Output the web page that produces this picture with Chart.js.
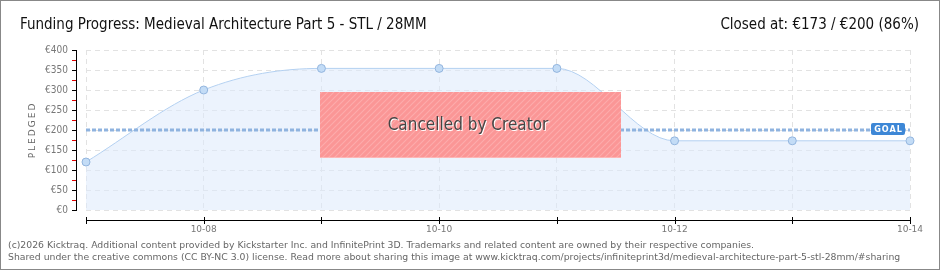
<!DOCTYPE html>
<html><head><meta charset="utf-8">
<script src="https://cdn.jsdelivr.net/npm/chart.js@4"></script>
<style>
html,body{margin:0;padding:0;background:#fff;}
canvas{display:block;}
</style></head><body>
<canvas id="c" width="940" height="270" style="width:940px;height:270px"></canvas>
<script>
const dates = ['10-07','10-08','10-09','10-10','10-11','10-12','10-13','10-14'];
const pledged = [120, 300, 354, 354, 354, 173, 173, 173];
const goal = 200;
const goalLine = dates.map(() => goal);
const yTicks = [0, 50, 100, 150, 200, 250, 300, 350, 400];
const titleText = 'Funding Progress: Medieval Architecture Part 5 - STL / 28MM';
const statusText = 'Closed at: €173 / €200 (86%)';
const footer1 = '(c)2026 Kicktraq. Additional content provided by Kickstarter Inc. and InfinitePrint 3D. Trademarks and related content are owned by their respective companies.';
const footer2 = 'Shared under the creative commons (CC BY-NC 3.0) license. Read more about sharing this image at www.kicktraq.com/projects/infiniteprint3d/medieval-architecture-part-5-stl-28mm/#sharing';
const NARROW = '"Liberation Sans Narrow","DejaVu Sans Condensed","Arial Narrow",sans-serif';

function hatch() {
  const p = document.createElement('canvas');
  p.width = 6; p.height = 6;
  const g = p.getContext('2d');
  g.fillStyle = '#fb9696';
  g.fillRect(0,0,6,6);
  g.strokeStyle = 'rgba(255,190,190,0.55)';
  g.lineWidth = 1.2;
  g.beginPath();
  g.moveTo(0,6); g.lineTo(6,0);
  g.moveTo(-3,3); g.lineTo(3,-3);
  g.moveTo(3,9); g.lineTo(9,3);
  g.stroke();
  return p;
}

const deco = {
  id: 'deco',
  afterDatasetsDraw(chart) {
    const ctx = chart.ctx, ca = chart.chartArea;
    const xs = chart.scales.x, ys = chart.scales.y;
    ctx.save();
    // cancelled box
    ctx.fillStyle = ctx.createPattern(hatch(), 'repeat');
    ctx.fillRect(320, 92, 301, 66);
    ctx.fillStyle = 'rgba(255,200,200,0.6)';
    ctx.fillRect(320, 157, 301, 1);
    ctx.font = '17px ' + NARROW;
    ctx.textAlign = 'center'; ctx.textBaseline = 'middle';
    ctx.fillStyle = '#ffffff';
    ctx.fillText('Cancelled by Creator', 469, 127);
    ctx.fillStyle = '#454545';
    ctx.fillText('Cancelled by Creator', 468, 126);
    // GOAL label
    const gy = ys.getPixelForValue(goal);
    const gx2 = ca.right - 5, gx1 = gx2 - 34;
    ctx.fillStyle = '#3d87d6';
    ctx.beginPath();
    ctx.roundRect(gx1, gy - 7, 34, 12, 2);
    ctx.fill();
    ctx.fillStyle = '#fff';
    ctx.font = 'bold 9px "DejaVu Sans Condensed","DejaVu Sans",sans-serif';
    ctx.letterSpacing = '1px';
    ctx.fillText('GOAL', (gx1 + gx2) / 2 + 0.5, gy - 0.5);
    ctx.letterSpacing = '0px';
    // y axis line & ticks
    ctx.strokeStyle = '#000'; ctx.lineWidth = 1;
    ctx.beginPath();
    ctx.moveTo(76.5, ys.getPixelForValue(400)); ctx.lineTo(76.5, ys.getPixelForValue(0));
    yTicks.forEach(v => { const y = Math.round(ys.getPixelForValue(v)) + 0.5; ctx.moveTo(72, y); ctx.lineTo(77, y); });
    ctx.stroke();
    ctx.strokeStyle = '#e00000';
    ctx.beginPath();
    yTicks.slice(0, -1).forEach(v => { const y = Math.round(ys.getPixelForValue(v + 25)) + 0.5; ctx.moveTo(72, y); ctx.lineTo(76, y); });
    ctx.stroke();
    // x axis line & ticks
    ctx.strokeStyle = '#000';
    ctx.beginPath();
    ctx.moveTo(ca.left, 220.5); ctx.lineTo(ca.right, 220.5);
    dates.forEach((d, i) => { const x = Math.round(xs.getPixelForValue(i)) + 0.5; ctx.moveTo(x, 217); ctx.lineTo(x, 224); });
    ctx.stroke();
    // y title
    ctx.save();
    ctx.translate(33, 130);
    ctx.rotate(-Math.PI / 2);
    ctx.fillStyle = '#666';
    ctx.font = '9px "DejaVu Sans",sans-serif';
    ctx.letterSpacing = '2px';
    ctx.textAlign = 'center'; ctx.textBaseline = 'middle';
    ctx.fillText('PLEDGED', 0, 0);
    ctx.restore();
    // titles
    ctx.textBaseline = 'alphabetic';
    ctx.fillStyle = '#111';
    ctx.font = '15px ' + NARROW;
    ctx.textAlign = 'left';
    ctx.fillText(titleText, 20, 29);
    ctx.textAlign = 'right';
    ctx.fillText(statusText, 919, 29);
    // footer
    ctx.fillStyle = '#666';
    ctx.font = '9.3px "DejaVu Sans",sans-serif';
    ctx.textAlign = 'left';
    ctx.fillText(footer1, 8, 248);
    ctx.fillText(footer2, 8, 260);
    // border
    ctx.strokeStyle = '#888';
    ctx.strokeRect(0.5, 0.5, 939, 269);
    ctx.restore();
  }
};

new Chart(document.getElementById('c'), {
  type: 'line',
  data: {
    labels: dates,
    datasets: [
      {
        data: goalLine, order: 0,
        borderColor: '#8fb3df', borderWidth: 3, borderDash: [4, 2],
        pointRadius: 0, fill: false, tension: 0
      },
      {
        data: pledged, order: 1, clip: 10,
        borderColor: '#b3d0f1', borderWidth: 1,
        backgroundColor: 'rgba(220,234,251,0.55)', fill: 'origin',
        cubicInterpolationMode: 'monotone',
        pointRadius: 4, pointBackgroundColor: '#c3dcf6',
        pointBorderColor: '#93b5de', pointBorderWidth: 1
      }
    ]
  },
  options: {
    responsive: false, animation: false,
    layout: { padding: { top: 50, right: 30, bottom: 30, left: 0 } },
    plugins: { legend: { display: false }, tooltip: { enabled: false } },
    scales: {
      x: {
        afterFit(s) { s.height = 30; },
        grid: { color: '#e2e2e2', drawTicks: false },
        border: { display: false, dash: [5, 4] },
        ticks: {
          padding: 14, maxRotation: 0, autoSkip: false, color: '#777',
          font: { size: 9, family: '"DejaVu Sans",sans-serif' },
          callback: (v, i) => (i % 2 === 1 ? dates[i] : '')
        }
      },
      y: {
        min: 0, max: 400,
        afterFit(s) { s.width = 86; },
        afterBuildTicks(s) { s.ticks = yTicks.map(v => ({ value: v })); },
        grid: { color: '#e2e2e2', drawTicks: false },
        border: { display: false, dash: [5, 4] },
        ticks: {
          padding: 18, color: '#777',
          font: { size: 10, family: '"DejaVu Sans Condensed","DejaVu Sans",sans-serif' },
          callback: v => '€' + v
        }
      }
    }
  },
  plugins: [deco]
});
</script>
</body></html>
